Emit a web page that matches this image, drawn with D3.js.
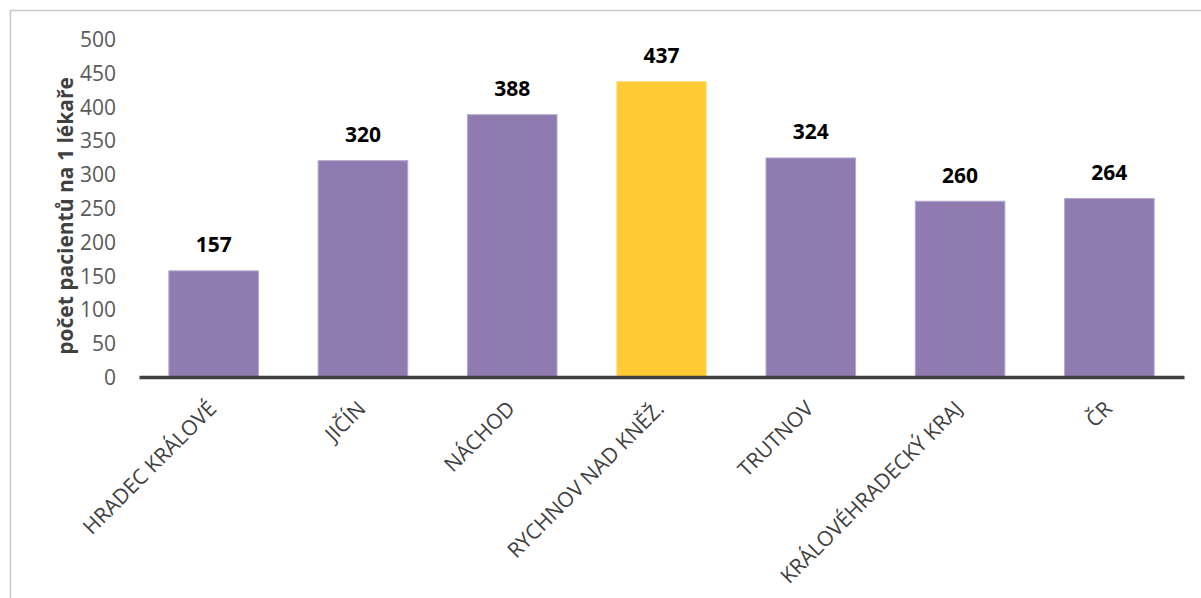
<!DOCTYPE html>
<html>
<head>
<meta charset="utf-8">
<script src="https://cdn.jsdelivr.net/npm/d3@7"></script>
<style>
  html, body { margin: 0; padding: 0; background: #ffffff; }
  svg { display: block; }
  svg text { font-family: "Open Sans", "Noto Sans", sans-serif; }
</style>
</head>
<body>
<svg id="chart" width="1201" height="598"></svg>
<script>
// Districts of the Hradec Králové region plus region and country totals
const categories = ["HRADEC KRÁLOVÉ", "JIČÍN", "NÁCHOD", "RYCHNOV NAD KNĚŽ.", "TRUTNOV", "KRÁLOVÉHRADECKÝ KRAJ", "ČR"];
const patientsPerDoctor = [157, 320, 388, 437, 324, 260, 264];
const highlighted = ["RYCHNOV NAD KNĚŽ."];
const yTicks = [0, 50, 100, 150, 200, 250, 300, 350, 400, 450, 500];
const yTitle = "počet pacientů na 1 lékaře";

const svg = d3.select("#chart");
const W = 1201, H = 598;
const plot = { left: 139, right: 1184, top: 39, bottom: 377 };

// outer frame of the chart area
svg.append("rect")
  .attr("x", 10.5).attr("y", 10.5)
  .attr("width", W + 20).attr("height", H + 20)
  .attr("fill", "none").attr("stroke", "#c8c8c8").attr("stroke-width", 1.5);

const x = d3.scaleBand()
  .domain(categories)
  .range([plot.left, plot.right])
  .paddingInner(0.4)
  .paddingOuter(0.2);

const y = d3.scaleLinear()
  .domain([0, 500])
  .range([plot.bottom, plot.top]);

// y axis: labels only
const yAxis = svg.append("g")
  .attr("transform", `translate(${plot.left - 23},0)`)
  .call(d3.axisLeft(y).tickValues(yTicks).tickSize(0).tickPadding(0));
yAxis.attr("font-family", null).attr("font-size", null);
yAxis.select(".domain").remove();
yAxis.selectAll("text")
  .attr("fill", "#595959")
  .style("font-size", "21px")
  .attr("dy", "0.36em");

svg.append("text")
  .attr("transform", `translate(73,216) rotate(-90)`)
  .attr("text-anchor", "middle")
  .attr("fill", "#404040")
  .style("font-size", "21px")
  .style("font-weight", "bold")
  .text(yTitle);

// bars
const data = categories.map((c, i) => ({ c, v: patientsPerDoctor[i] }));
svg.append("g").selectAll("rect")
  .data(data)
  .join("rect")
  .attr("x", d => x(d.c))
  .attr("y", d => y(d.v))
  .attr("width", x.bandwidth())
  .attr("height", d => y(0) - y(d.v))
  .attr("fill", d => highlighted.includes(d.c) ? "#ffca33" : "#8f7bb0")
  .attr("stroke", d => highlighted.includes(d.c) ? "#ffe08a" : "#b5a6cc")
  .attr("stroke-width", 1);

// value labels
svg.append("g").selectAll("text")
  .data(data)
  .join("text")
  .attr("x", d => x(d.c) + x.bandwidth() / 2)
  .attr("y", d => y(d.v) - 18.5)
  .attr("text-anchor", "middle")
  .attr("fill", "#000000")
  .style("font-size", "21px")
  .style("font-weight", "bold")
  .text(d => d.v);

// x axis baseline and rotated category labels
const xAxis = svg.append("g")
  .attr("transform", `translate(0,${plot.bottom})`)
  .call(d3.axisBottom(x).tickSize(0).tickPadding(0));
xAxis.attr("font-family", null).attr("font-size", null);
xAxis.select(".domain")
  .attr("stroke", "#404040")
  .attr("stroke-width", 3.5);
xAxis.selectAll("text")
  .attr("fill", "#404040")
  .style("font-size", "21px")
  .attr("text-anchor", "end")
  .attr("dy", "0")
  .attr("transform", "translate(4,33) rotate(-45)");
</script>
</body>
</html>
